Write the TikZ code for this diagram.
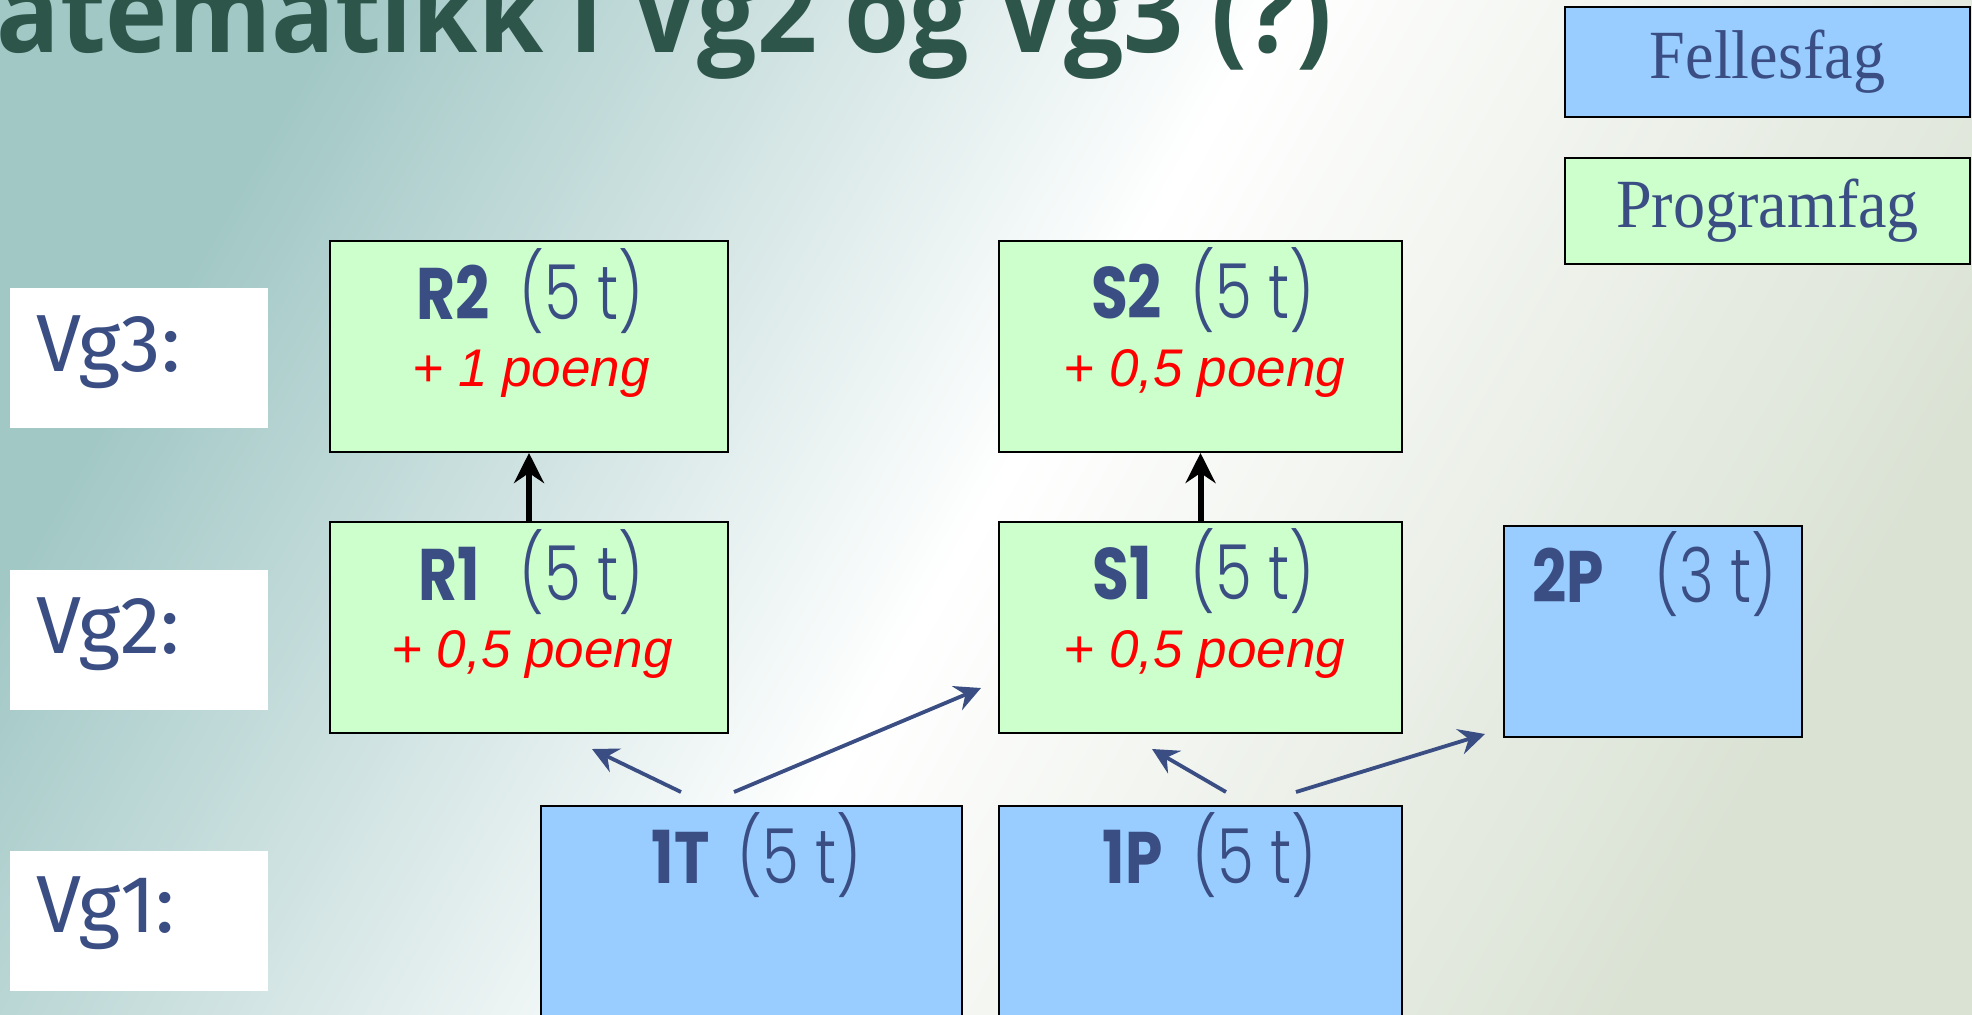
\documentclass[tikz,border=0pt]{standalone}
\usepackage{fontspec}
\setmainfont{Liberation Serif}
\newfontfamily\headingfont{Open Sans}[FakeStretch=0.94]
\newfontfamily\codefont{Poppins}[FakeStretch=0.82]
\newfontfamily\hoursfont{Poppins Light}[FakeStretch=0.78]
\newfontfamily\gradefont{Fira Sans}
\newfontfamily\bonusfont{Liberation Sans}
\newfontfamily\legendfont{Liberation Serif}[FakeStretch=0.93]
\usepackage{tikz}
\usetikzlibrary{positioning,arrows.meta}

\definecolor{inkblue}{RGB}{58,78,132}
\definecolor{headgreen}{RGB}{46,85,74}
\definecolor{progfill}{RGB}{204,255,204}
\definecolor{commonfill}{RGB}{153,204,255}
\definecolor{bgteal}{RGB}{162,200,198}
\definecolor{bggrey}{RGB}{218,226,212}

\tikzset{
 program/.style={draw=black,line width=1pt,fill=progfill,minimum height=105.5pt},
 common/.style={draw=black,line width=1pt,fill=commonfill},
 gradebox/.style={fill=white,minimum width=129pt,minimum height=70pt},
 code/.style={inner sep=0pt,text=inkblue,font=\codefont\bfseries\fontsize{36.5pt}{40pt}\selectfont},
 hrs/.style={inner sep=0pt,text=inkblue,font=\hoursfont\fontsize{38pt}{40pt}\selectfont},
 bonus/.style={inner sep=0pt,text=red,font=\bonusfont\itshape\fontsize{26.5pt}{30pt}\selectfont},
 grade/.style={inner sep=0pt,text=inkblue,font=\gradefont\fontsize{40.5pt}{44pt}\selectfont},
 legend/.style={text=inkblue,font=\legendfont\fontsize{34.5pt}{38pt}\selectfont,minimum width=202.5pt},
 link/.style={draw=inkblue,line width=1.9pt,-{Stealth[length=13pt,width=13pt,inset=4.5pt]}},
 climb/.style={draw=black,line width=3pt,-{Stealth[length=15pt,width=15pt,inset=5pt]}},
}

\begin{document}
\begin{tikzpicture}[x=0.5pt,y=-0.5pt]
 \useasboundingbox (0,0) rectangle (1972,1014);
 \clip (0,0) rectangle (1972,1014);
 \shade[left color=bgteal,right color=bggrey,middle color=white,shading angle=60] (0,0) rectangle (1972,1014);

 % heading, cut by the page edge
 \node[inner sep=0pt,anchor=base east,text=headgreen,font=\headingfont\bfseries\fontsize{56pt}{60pt}\selectfont] (heading) at (1333,52) {atematikk i Vg2 og Vg3 (?)};

 % legend
 \node[legend,common,minimum height=55pt] (felles) at (1767.5,62) {Fellesfag};
 \node[legend,program,minimum height=53pt] (progfag) at (1767.5,211) {Programfag};

 % year labels
 \node[gradebox] (vg3) at (139,358) {};
 \node[gradebox] (vg2) at (139,639.5) {};
 \node[gradebox] (vg1) at (139,921) {};
 \node[grade,anchor=base west] at ([xshift=13pt,yshift=-42pt]vg3.north west) {Vg3:};
 \node[grade,anchor=base west] at ([xshift=13pt,yshift=-42pt]vg2.north west) {Vg2:};
 \node[grade,anchor=base west] at ([xshift=13pt,yshift=-41pt]vg1.north west) {Vg1:};

 % courses
 \node[program,minimum width=199pt] (R2) at (529,346.5) {};
 \node[program,minimum width=199pt] (R1) at (529,627.5) {};
 \node[program,minimum width=201.5pt] (S2) at (1200.5,346.5) {};
 \node[program,minimum width=201.5pt] (S1) at (1200.5,627.5) {};
 \node[common,minimum width=149pt,minimum height=105.5pt] (P2) at (1653,631.5) {};
 \node[common,minimum width=210.5pt,minimum height=117pt] (T1) at (751.5,923) {};
 \node[common,minimum width=201.5pt,minimum height=117pt] (P1) at (1200.5,923) {};

 \node[hrs,anchor=base west] (R2h) at ([xshift=-5pt,yshift=-39.5pt]R2.north) {(5 t)};
 \node[code,anchor=base east] at ([xshift=-14.5pt]R2h.base west) {R2};
 \node[bonus,anchor=base] at ([xshift=1pt,yshift=-73pt]R2.north) {+ 1 poeng};

 \node[hrs,anchor=base west] (R1h) at ([xshift=-5pt,yshift=-39.5pt]R1.north) {(5 t)};
 \node[code,anchor=base east] at ([xshift=-19.5pt]R1h.base west) {R1};
 \node[bonus,anchor=base] at ([xshift=1.5pt,yshift=-73pt]R1.north) {+ 0,5 poeng};

 \node[hrs,anchor=base west] (S2h) at ([xshift=-5pt,yshift=-39pt]S2.north) {(5 t)};
 \node[code,anchor=base east] at ([xshift=-14pt]S2h.base west) {S2};
 \node[bonus,anchor=base] at ([xshift=2pt,yshift=-73pt]S2.north) {+ 0,5 poeng};

 \node[hrs,anchor=base west] (S1h) at ([xshift=-5pt,yshift=-39pt]S1.north) {(5 t)};
 \node[code,anchor=base east] at ([xshift=-19pt]S1h.base west) {S1};
 \node[bonus,anchor=base] at ([xshift=2pt,yshift=-73pt]S1.north) {+ 0,5 poeng};

 \node[hrs,anchor=base west] (P2h) at ([xshift=0.5pt,yshift=-38.5pt]P2.north) {(3 t)};
 \node[code,anchor=base east] at ([xshift=-25pt]P2h.base west) {2P};

 \node[hrs,anchor=base west] (T1h) at ([xshift=-7.25pt,yshift=-39pt]T1.north) {(5 t)};
 \node[code,anchor=base east] at ([xshift=-13.5pt]T1h.base west) {1T};

 \node[hrs,anchor=base west] (P1h) at ([xshift=-4.25pt,yshift=-39pt]P1.north) {(5 t)};
 \node[code,anchor=base east] at ([xshift=-14.5pt]P1h.base west) {1P};

 % connections
 \draw[climb] (R1.north) -- (R2.south);
 \draw[climb] (S1.north) -- (S2.south);
 \draw[link] ([xshift=-35.25pt,yshift=6.5pt]T1.north) -- ([xshift=31.5pt,yshift=-7.5pt]R1.south);
 \draw[link] ([xshift=-8.75pt,yshift=6.5pt]T1.north) -- ([xshift=-8.5pt,yshift=23pt]S1.south west);
 \draw[link] ([xshift=12.75pt,yshift=6.5pt]P1.north) -- ([xshift=-24.25pt,yshift=-7.5pt]S1.south);
 \draw[link] ([xshift=47.75pt,yshift=6.5pt]P1.north) -- ([xshift=-9pt,yshift=2pt]P2.south west);
\end{tikzpicture}
\end{document}
